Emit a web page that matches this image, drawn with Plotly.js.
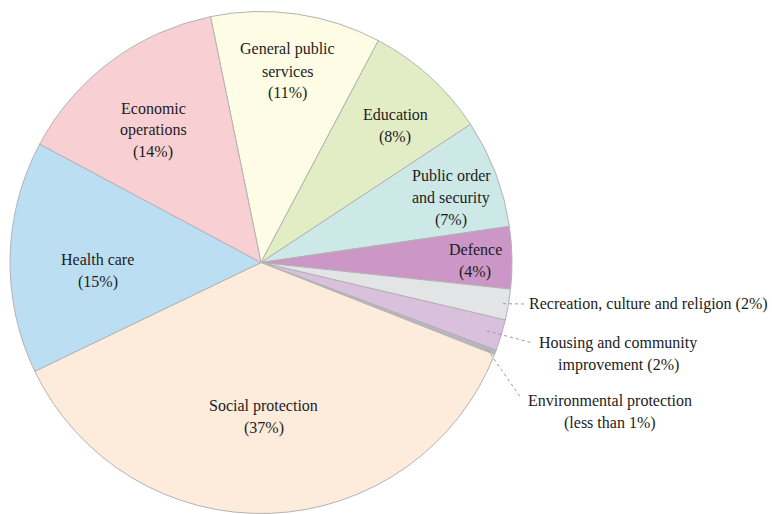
<!DOCTYPE html>
<html>
<head>
<meta charset="utf-8">
<script src="https://cdn.plot.ly/plotly-3.0.1.min.js"></script>
<style>html,body{margin:0;padding:0;background:#fff;overflow:hidden}</style>
</head>
<body>
<div id="chart"></div>
<script>
// ---- data ----
const categories = ["General public services","Education","Public order and security","Defence",
  "Recreation, culture and religion","Housing and community improvement","Environmental protection",
  "Social protection","Health care","Economic operations"];
const values = [11, 8, 7, 4, 2, 2, 0.3, 37, 15, 14];
const labelLines = [
  ["General public","services","(11%)"],
  ["Education","(8%)"],
  ["Public order","and security","(7%)"],
  ["Defence","(4%)"],
  ["Recreation, culture and religion (2%)"],
  ["Housing and community","improvement (2%)"],
  ["Environmental protection","(less than 1%)"],
  ["Social protection","(37%)"],
  ["Health care","(15%)"],
  ["Economic","operations","(14%)"]
];
const colors = ["#fefce5","#e3edc5","#cce9e8","#cc96c6","#e3e4e5","#d9c1dd","#b9b4c0","#fdecdb","#bcdef3","#f8d0d3"];

// ---- layout config (positions/styles) ----
const W = 772, H = 514;
const CX = 261, CY = 262.5, R = 251;
const ROT = -11.6;
const LINE_H = 22;
const insideLabel = [
  {rf:0.77, da:-0.2}, {rf:0.763, da:2.2}, {rf:0.80, da:2.1}, {rf:0.853, da:0.7},
  null, null, null,
  {rf:0.614, da:1.0}, {rf:0.652, da:-4.2}, {rf:0.68, da:-2.5}
];
const outsideLabel = [
  null,null,null,null,
  {rf:0.978, end:[525,304], text:[527,304], anchor:"left"},
  {rf:0.94, end:[533,343], text:[618,354], anchor:"center"},
  {rf:0.965, end:[521,398], text:[610,412], anchor:"center"},
  null,null,null
];

const total = values.reduce((a,b)=>a+b,0);
const px2x = p => p / W;
const py2y = p => 1 - p / H;
const polar = (angDeg, r) => {
  const a = angDeg * Math.PI / 180;
  return [CX + r * Math.sin(a), CY - r * Math.cos(a)];
};
const mkFont = () => ({family: "Liberation Serif", size: 16, color: "#1c1c1c"});

const annotations = [];
const shapes = [];
let cum = ROT;
values.forEach((v, i) => {
  const span = v / total * 360;
  const mid = cum + span / 2;
  cum += span;
  const lines = labelLines[i];
  if (insideLabel[i]) {
    const c = insideLabel[i];
    const [x, y] = polar(mid + c.da, c.rf * R);
    lines.forEach((t, k) => {
      annotations.push({xref:"paper", yref:"paper", x:px2x(x), y:py2y(y), text:t, showarrow:false,
        xanchor:"center", yanchor:"middle", yshift: -((k - (lines.length - 1) / 2) * LINE_H), font:mkFont()});
    });
  } else if (outsideLabel[i]) {
    const o = outsideLabel[i];
    const [sx, sy] = polar(mid, o.rf * R);
    shapes.push({type:"line", xref:"paper", yref:"paper", x0:px2x(sx), y0:py2y(sy), x1:px2x(o.end[0]), y1:py2y(o.end[1]),
      line:{color:"#9a9a9a", width:1, dash:"dot"}});
    lines.forEach((t, k) => {
      annotations.push({xref:"paper", yref:"paper", x:px2x(o.text[0]), y:py2y(o.text[1]), text:t, showarrow:false,
        xanchor:o.anchor, yanchor:"middle", yshift: -((k - (lines.length - 1) / 2) * LINE_H), font:mkFont()});
    });
  }
});

const trace = {
  type: "pie",
  labels: categories,
  values: values,
  sort: false,
  direction: "clockwise",
  rotation: ROT,
  textinfo: "none",
  hoverinfo: "none",
  showlegend: false,
  marker: {colors: colors, line: {color: "#b3b3b3", width: 1}},
  domain: {x: [px2x(CX - R), px2x(CX + R)], y: [py2y(CY + R), py2y(CY - R)]}
};

const layout = {
  width: W, height: H,
  margin: {l:0, r:0, t:0, b:0, pad:0},
  paper_bgcolor: "#ffffff",
  plot_bgcolor: "#ffffff",
  showlegend: false,
  font: {family: "Liberation Serif", size: 16, color: "#1c1c1c"},
  annotations: annotations,
  shapes: shapes
};

Plotly.newPlot("chart", [trace], layout, {displayModeBar: false});
</script>
</body>
</html>
